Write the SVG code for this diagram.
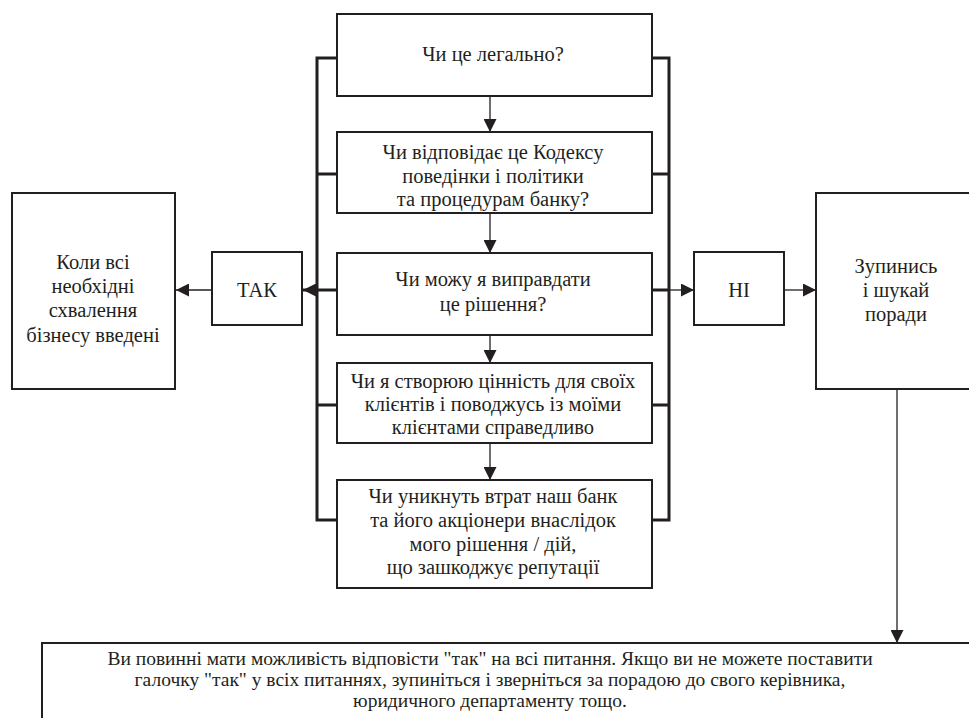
<svg xmlns="http://www.w3.org/2000/svg" width="969" height="718" viewBox="0 0 969 718">
<defs>
<marker id="ahb" viewBox="0 0 10 10" refX="10" refY="5" markerWidth="13" markerHeight="13" markerUnits="userSpaceOnUse" orient="auto">
<path d="M0,0 L10,5 L0,10 Z" fill="#231f20"/>
</marker>
</defs>
<style>
.box{fill:#fff;stroke:#231f20;stroke-width:2}
.rail{fill:none;stroke:#231f20;stroke-width:3}
.thin{fill:none;stroke:#231f20;stroke-width:1.3}
</style>
<rect width="969" height="718" fill="#fff"/>
<g id="connectors">
<path class="rail" d="M337,58 H317 V520 H337 M337,174 H317 M337,290 H317 M337,405 H317"/>
<path class="rail" d="M652,58 H669 V520 H652 M652,174 H669 M652,290 H669 M652,405 H669"/>
<line class="rail" x1="317" y1="290" x2="303" y2="290" marker-end="url(#ahb)"/>
<line class="thin" x1="669" y1="290" x2="694" y2="290" marker-end="url(#ahb)"/>
<line class="thin" x1="212" y1="290" x2="176" y2="290" marker-end="url(#ahb)"/>
<line class="thin" x1="784" y1="290" x2="816" y2="290" marker-end="url(#ahb)"/>
<line class="thin" x1="490" y1="96" x2="490" y2="132" marker-end="url(#ahb)"/>
<line class="thin" x1="490" y1="213" x2="490" y2="253" marker-end="url(#ahb)"/>
<line class="thin" x1="490" y1="335" x2="490" y2="363" marker-end="url(#ahb)"/>
<line class="thin" x1="490" y1="443" x2="490" y2="480" marker-end="url(#ahb)"/>
<line class="thin" x1="897" y1="389" x2="897" y2="643" marker-end="url(#ahb)"/>
</g>
<g id="nodes" text-anchor="middle" font-size="20.5" fill="#231f20">
<g id="q1">
<rect class="box" x="337" y="14" width="315" height="82"/>
<text font-family="Liberation Serif" x="493" y="61">Чи це легально?</text>
</g>
<g id="q2">
<rect class="box" x="337" y="132" width="315" height="81"/>
<text font-family="Liberation Serif" x="493" y="159">Чи відповідає це Кодексу</text>
<text font-family="Liberation Serif" x="493" y="183">поведінки і політики</text>
<text font-family="Liberation Serif" x="493" y="206">та процедурам банку?</text>
</g>
<g id="q3">
<rect class="box" x="337" y="253" width="315" height="82"/>
<text font-family="Liberation Serif" x="493" y="286">Чи можу я виправдати</text>
<text font-family="Liberation Serif" x="493" y="311">це рішення?</text>
</g>
<g id="q4">
<rect class="box" x="337" y="363" width="315" height="80"/>
<text font-family="Liberation Serif" x="493" y="388">Чи я створюю цінність для своїх</text>
<text font-family="Liberation Serif" x="493" y="411">клієнтів і поводжусь із моїми</text>
<text font-family="Liberation Serif" x="493" y="434">клієнтами справедливо</text>
</g>
<g id="q5">
<rect class="box" x="337" y="480" width="315" height="108"/>
<text font-family="Liberation Serif" x="493" y="503">Чи уникнуть втрат наш банк</text>
<text font-family="Liberation Serif" x="493" y="527">та його акціонери внаслідок</text>
<text font-family="Liberation Serif" x="493" y="551">мого рішення / дій,</text>
<text font-family="Liberation Serif" x="493" y="574">що зашкоджує репутації</text>
</g>
<g id="tak">
<rect class="box" x="212" y="252" width="90" height="73"/>
<text font-family="Liberation Serif" x="257" y="297">ТАК</text>
</g>
<g id="ni">
<rect class="box" x="694" y="252" width="90" height="73"/>
<text font-family="Liberation Serif" x="739" y="297">НІ</text>
</g>
<g id="yes-result">
<rect class="box" x="12" y="193" width="163" height="196"/>
<text font-family="Liberation Serif" x="93" y="269">Коли всі</text>
<text font-family="Liberation Serif" x="93" y="293">необхідні</text>
<text font-family="Liberation Serif" x="93" y="317">схвалення</text>
<text font-family="Liberation Serif" x="93" y="342">бізнесу введені</text>
</g>
<g id="no-result">
<rect class="box" x="816" y="193" width="160" height="196"/>
<text font-family="Liberation Serif" x="896" y="273">Зупинись</text>
<text font-family="Liberation Serif" x="896" y="297">і шукай</text>
<text font-family="Liberation Serif" x="896" y="321">поради</text>
</g>
<g id="note" font-size="19.5">
<rect class="box" x="42" y="643" width="940" height="90"/>
<text font-family="Liberation Serif" x="490" y="665">Ви повинні мати можливість відповісти "так" на всі питання. Якщо ви не можете поставити</text>
<text font-family="Liberation Serif" x="490" y="686">галочку "так" у всіх питаннях, зупиніться і зверніться за порадою до свого керівника,</text>
<text font-family="Liberation Serif" x="490" y="707">юридичного департаменту тощо.</text>
</g>
</g>
</svg>
